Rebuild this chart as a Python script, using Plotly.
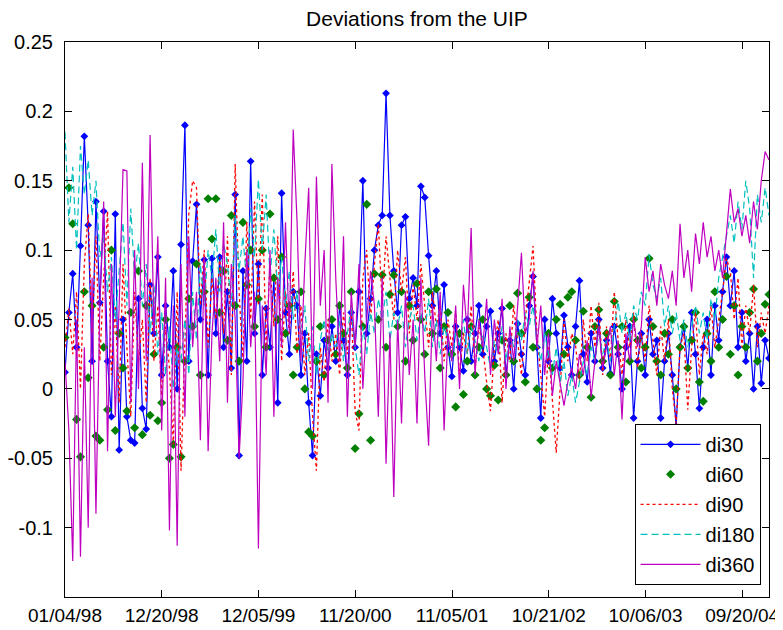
import pandas as pd
import plotly.graph_objects as go

# weekly observations sampled every two weeks, 1998-01-04 .. 2004-12-26
dates = pd.date_range("1998-01-04", periods=183, freq="14D")

di30 = [
    0.012, 0.055, 0.083, 0.030, 0.103, 0.182, 0.118, 0.020, 0.135, 0.062,
    0.128, 0.020, -0.020, 0.126, -0.044, 0.050, -0.020, -0.037, -0.039, 0.065,
    -0.014, -0.029, 0.075, 0.040, 0.095, 0.010, 0.060, 0.030, 0.085, 0.000,
    0.104, 0.190, 0.020, 0.092, 0.133, 0.050, 0.093, 0.010, 0.094, 0.040,
    0.095, 0.030, 0.070, 0.015, 0.140, -0.048, 0.085, 0.020, 0.164, 0.040,
    0.090, 0.010, 0.058, 0.030, 0.080, -0.010, 0.141, 0.055, 0.025, 0.070,
    0.060, 0.010, 0.040, -0.010, -0.048, 0.025, -0.005, 0.035, 0.015, 0.045,
    0.020, 0.060, 0.035, 0.010, 0.055, 0.030, 0.070, 0.150, 0.040, 0.065,
    0.100, 0.118, 0.125, 0.213, 0.125, 0.085, 0.055, 0.118, 0.124, 0.065,
    0.080, 0.060, 0.146, 0.138, 0.096, 0.060, 0.085, 0.040, 0.075, 0.030,
    0.009, 0.045, 0.030, 0.013, 0.050, 0.020, 0.040, 0.060, 0.025, 0.045,
    0.056, 0.020, 0.040, 0.058, 0.010, 0.035, 0.000, 0.047, 0.025, 0.010,
    0.060, 0.081, 0.030, -0.021, 0.050, 0.020, 0.065, 0.040, 0.015, 0.053,
    0.030, 0.010, 0.045, 0.078, 0.025, 0.005, 0.040, 0.020, 0.050, 0.015,
    0.035, 0.011, 0.045, 0.025, 0.000, 0.030, 0.045, -0.021, 0.020, 0.040,
    0.010, 0.050, 0.025, 0.035, -0.021, 0.020, 0.040, 0.010, -0.027, 0.030,
    0.045, 0.015, 0.055, 0.025, -0.014, 0.030, 0.050, 0.010, 0.060, 0.035,
    0.070, 0.095, 0.060, 0.085, 0.030, 0.055, 0.020, 0.040, 0.000, 0.045,
    0.004, 0.035, 0.022,
]

di60 = [
    0.037, 0.145, 0.119, -0.022, -0.049, 0.070, 0.008, 0.060, -0.034, -0.037,
    0.030, -0.015, 0.100, -0.030, 0.040, 0.015, -0.016, 0.055, -0.028, 0.085,
    -0.033, 0.060, -0.019, 0.025, -0.023, -0.010, 0.050, -0.050, -0.040, 0.030,
    -0.049, 0.020, 0.065, 0.045, 0.090, 0.010, 0.070, 0.137, 0.108, 0.137,
    0.055, 0.085, 0.035, 0.125, 0.060, 0.020, 0.120, 0.075, 0.100, 0.045,
    0.065, 0.100, 0.030, 0.126, 0.080, 0.050, 0.095, 0.040, 0.060, 0.010,
    0.030, 0.070, 0.000, -0.031, -0.034, 0.020, 0.045, 0.010, 0.035, 0.050,
    0.025, 0.060, 0.040, 0.015, 0.070, -0.043, -0.018, 0.045, 0.133, -0.037,
    0.083, 0.050, 0.082, 0.030, 0.068, 0.082, 0.045, 0.070, 0.020, 0.060,
    0.035, 0.076, 0.050, 0.025, 0.070, 0.040, 0.072, 0.015, 0.045, 0.055,
    0.025, -0.013, 0.040, -0.004, 0.020, 0.045, 0.010, 0.030, 0.050, 0.000,
    -0.005, 0.017, -0.008, 0.035, 0.010, 0.060, 0.020, 0.069, 0.040, 0.005,
    0.066, 0.030, 0.000, -0.037, -0.028, 0.040, 0.015, 0.050, 0.061, 0.025,
    0.066, 0.070, 0.035, 0.010, 0.056, 0.030, -0.006, 0.045, 0.057, 0.020,
    0.040, 0.010, 0.063, 0.030, 0.045, 0.005, 0.020, 0.050, 0.035, 0.015,
    0.030, 0.094, 0.045, 0.020, 0.010, 0.040, 0.025, 0.050, 0.000, 0.030,
    0.045, 0.015, 0.035, 0.055, 0.005, -0.009, 0.040, 0.020, 0.070, 0.030,
    0.050, 0.081, 0.025, 0.060, 0.010, 0.045, 0.030, 0.055, 0.072, 0.020,
    0.040, 0.061, 0.068,
]

di90 = [
    0.030, 0.058, 0.025, 0.070, 0.000, 0.090, 0.126, 0.040, 0.110, 0.020,
    0.080, 0.128, 0.010, 0.060, -0.010, 0.090, 0.030, -0.020, 0.070, 0.020,
    0.050, -0.010, 0.080, 0.020, 0.060, -0.005, 0.045, 0.015, -0.040, 0.070,
    -0.059, 0.040, 0.126, 0.150, 0.145, 0.060, 0.100, 0.030, 0.080, 0.050,
    0.095, 0.040, 0.110, 0.010, 0.162, 0.070, 0.020, 0.120, 0.050, 0.135,
    0.060, 0.140, 0.030, 0.090, 0.045, 0.110, 0.020, 0.070, 0.040, 0.085,
    0.025, 0.060, 0.010, 0.040, -0.020, -0.059, 0.030, 0.005, 0.050, 0.020,
    0.040, 0.010, 0.055, 0.025, 0.060, -0.016, -0.030, 0.080, 0.100, 0.050,
    0.090, 0.119, 0.060, 0.110, 0.080, 0.050, 0.100, 0.070, 0.095, 0.040,
    0.075, 0.050, 0.090, 0.060, 0.030, 0.070, 0.045, 0.060, 0.020, 0.050,
    0.030, 0.055, 0.010, 0.040, 0.025, 0.060, 0.015, 0.045, 0.030, 0.005,
    -0.016, 0.030, 0.050, -0.010, 0.040, 0.020, 0.060, 0.035, 0.010, 0.050,
    0.075, 0.103, 0.040, 0.010, -0.020, 0.030, -0.010, -0.046, 0.000, 0.050,
    0.020, 0.040, 0.031, 0.005, 0.050, 0.020, 0.060, 0.030, 0.062, 0.010,
    0.045, 0.020, 0.070, 0.035, 0.010, 0.050, 0.030, 0.055, 0.015, 0.040,
    0.020, 0.060, 0.035, 0.010, 0.045, 0.020, 0.050, 0.000, -0.025, 0.030,
    0.040, -0.015, 0.030, 0.055, 0.010, 0.040, 0.025, 0.060, 0.030, 0.050,
    0.070, 0.094, 0.085, 0.050, 0.080, 0.030, 0.060, 0.040, 0.075, 0.030,
    0.055, 0.040, 0.060,
]

di180 = [
    0.185, 0.120, 0.160, 0.100, 0.175, 0.140, 0.165, 0.125, 0.150, 0.095,
    0.110, 0.070, 0.095, 0.050, 0.085, 0.120, 0.060, 0.130, 0.080, 0.105,
    0.060, 0.090, 0.040, 0.075, 0.025, 0.055, 0.010, 0.045, 0.000, 0.030,
    0.020, 0.050, 0.010, 0.070, 0.035, 0.090, 0.060, 0.100, 0.080, 0.115,
    0.070, 0.105, 0.090, 0.060, 0.125, 0.085, 0.110, 0.075, 0.130, 0.095,
    0.151, 0.100, 0.140, 0.080, 0.115, 0.070, 0.095, 0.060, 0.085, 0.050,
    0.070, 0.040, 0.060, 0.020, 0.045, 0.010, 0.035, 0.050, 0.025, 0.040,
    0.030, 0.050, 0.020, 0.040, 0.060, 0.030, 0.010, 0.045, 0.025, 0.055,
    0.040, 0.065, 0.050, 0.070, 0.035, 0.055, 0.045, 0.060, 0.030, 0.050,
    0.060, 0.035, 0.055, 0.040, 0.065, 0.030, 0.050, 0.025, 0.045, 0.035,
    0.020, 0.040, 0.030, 0.050, 0.025, 0.045, 0.035, 0.020, 0.040, 0.030,
    0.015, 0.035, 0.025, 0.045, 0.020, 0.040, 0.030, 0.050, 0.035, 0.055,
    0.045, 0.060, 0.035, 0.020, 0.040, 0.025, 0.010, 0.030, 0.005, 0.020,
    -0.005, 0.010, -0.010, 0.005, 0.020, 0.010, 0.030, 0.020, 0.040, 0.025,
    0.035, 0.020, 0.045, 0.063, 0.040, 0.055, 0.035, 0.060, 0.050, 0.070,
    0.060, 0.097, 0.075, 0.065, 0.080, 0.045, 0.060, 0.040, 0.055, 0.035,
    0.050, 0.030, 0.045, 0.060, 0.040, 0.055, 0.035, 0.065, 0.050, 0.080,
    0.095, 0.110, 0.125, 0.105, 0.135, 0.115, 0.150, 0.130, 0.080, 0.140,
    0.120, 0.145, 0.125,
]

di360 = [
    0.020, -0.030, -0.124, 0.050, -0.121, 0.030, -0.100, 0.080, -0.090, 0.060,
    0.135, -0.045, 0.090, -0.020, 0.060, 0.158, 0.157, -0.010, 0.100, 0.000,
    0.163, 0.020, 0.183, 0.040, 0.110, -0.030, 0.080, -0.102, 0.060, -0.113,
    0.090, -0.020, 0.110, 0.030, 0.070, -0.037, 0.095, -0.045, 0.040, 0.080,
    0.020, 0.120, -0.010, 0.090, 0.050, -0.050, 0.005, 0.100, 0.030, 0.070,
    -0.115, 0.060, 0.010, 0.100, -0.020, 0.080, 0.030, 0.120, 0.040, 0.187,
    0.120, 0.020, 0.090, 0.145, 0.000, 0.153, 0.060, 0.100, -0.010, 0.162,
    0.080, 0.020, 0.110, -0.020, 0.070, 0.030, 0.090, 0.000, 0.050, 0.085,
    0.060, -0.020, 0.080, -0.054, 0.040, -0.078, 0.050, -0.025, 0.070, 0.010,
    0.050, -0.025, 0.080, 0.010, -0.041, 0.060, 0.020, 0.070, -0.030, 0.040,
    0.020, 0.060, 0.000, 0.075, 0.040, 0.116, 0.010, 0.050, 0.030, 0.065,
    0.010, 0.050, 0.025, 0.065, 0.000, 0.045, 0.020, 0.060, 0.098, 0.040,
    0.050, 0.085, 0.030, 0.060, 0.010, 0.040, -0.005, 0.020, 0.005, -0.012,
    0.005, 0.015, 0.000, 0.025, 0.010, 0.035, -0.006, 0.020, 0.045, 0.015,
    0.030, 0.045, 0.010, 0.035, -0.022, 0.040, 0.020, 0.050, 0.030, 0.045,
    0.095, 0.070, 0.085, 0.060, 0.090, 0.075, 0.065, 0.085, 0.060, 0.119,
    0.080, 0.100, 0.070, 0.112, 0.090, 0.120, 0.095, 0.110, 0.085, 0.100,
    0.080, 0.115, 0.144, 0.120, 0.130, 0.110, 0.125, 0.105, 0.135, 0.115,
    0.150, 0.171, 0.165,
]

x_tick_dates = ["1998-01-04", "1998-12-20", "1999-12-05", "2000-11-20",
                "2001-11-05", "2002-10-21", "2003-10-06", "2004-09-20"]
x_tick_text = ["01/04/98", "12/20/98", "12/05/99", "11/20/00",
               "11/05/01", "10/21/02", "10/06/03", "09/20/04"]
y_tick_vals = [-0.1, -0.05, 0, 0.05, 0.1, 0.15, 0.2, 0.25]
y_tick_text = ["-0.1", "-0.05", "0", "0.05", "0.1", "0.15", "0.2", "0.25"]

BLUE = "rgb(0,0,255)"
GREEN = "rgb(0,128,0)"
RED = "rgb(255,0,0)"
CYAN = "rgb(0,191,191)"
MAGENTA = "rgb(191,0,191)"

fig = go.Figure()
fig.add_trace(go.Scatter(x=dates, y=di30, name="di30", mode="lines+markers",
                         line=dict(color=BLUE, width=1.2),
                         marker=dict(symbol="diamond", size=6, color=BLUE),
                         legendgroup="a"))
fig.add_trace(go.Scatter(x=dates, y=di60, name="di60", mode="markers",
                         marker=dict(symbol="diamond", size=7, color=GREEN),
                         legendgroup="b"))
fig.add_trace(go.Scatter(x=dates, y=di90, name="di90", mode="lines",
                         line=dict(color=RED, width=1.3, dash="dot"),
                         legendgroup="c"))
fig.add_trace(go.Scatter(x=dates, y=di180, name="di180", mode="lines",
                         line=dict(color=CYAN, width=1.2, dash="7px,4px"),
                         legendgroup="d"))
fig.add_trace(go.Scatter(x=dates, y=di360, name="di360", mode="lines",
                         line=dict(color=MAGENTA, width=1.2),
                         legendgroup="e"))

axis_common = dict(showline=True, linecolor="black", linewidth=1, mirror="ticks",
                   ticks="inside", ticklen=7, tickcolor="black", showgrid=False,
                   zeroline=False, automargin=False)

# the page body adds an 8px offset; the figure is sized to compensate
FIG_W, FIG_H = 775, 622
fig.update_layout(
    width=FIG_W, height=FIG_H,
    margin=dict(l=57, r=14, t=34, b=33),
    paper_bgcolor="white", plot_bgcolor="white",
    font=dict(family="Liberation Sans, Arial, sans-serif", size=20, color="black"),
    title=dict(text="Deviations from the UIP", x=0.5, xref="paper", xanchor="center",
               y=1 - 11 / FIG_H, yanchor="middle", font=dict(size=21, color="black")),
    legend=dict(x=0.988, y=0.022, xanchor="right", yanchor="bottom",
                bgcolor="white", bordercolor="black", borderwidth=1,
                font=dict(size=20, color="black"), tracegroupgap=1,
                itemwidth=60),
    showlegend=True,
)
fig.update_xaxes(range=["1998-01-04", "2004-12-26"], tickvals=x_tick_dates,
                 ticktext=x_tick_text, ticklabelstandoff=1,
                 tickfont=dict(size=19, color="black"), **axis_common)
fig.update_yaxes(range=[-0.15, 0.25], tickvals=y_tick_vals, ticktext=y_tick_text,
                 ticklabelstandoff=7, tickfont=dict(size=20, color="black"),
                 **axis_common)

fig.write_html("out.html")
